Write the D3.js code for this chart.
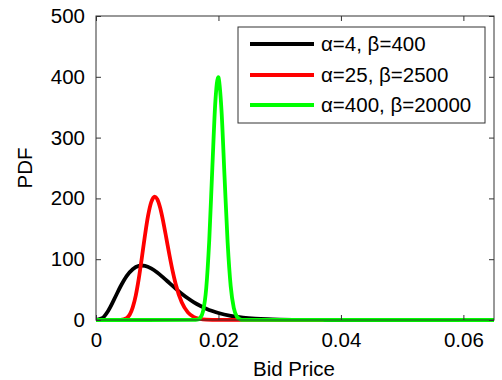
<!DOCTYPE html>
<html>
<head>
<meta charset="utf-8">
<script src="https://cdn.jsdelivr.net/npm/d3@7"></script>
<style>
  html, body { margin: 0; padding: 0; background: #fff; }
  svg text { font-family: Arial, "Liberation Sans", sans-serif; }
</style>
</head>
<body>
<svg id="chart" width="502" height="380"></svg>
<script>
// Gamma PDFs of the bid price for three shape/rate pairs
const seriesNames = ["\u03b1=4, \u03b2=400", "\u03b1=25, \u03b2=2500", "\u03b1=400, \u03b2=20000"];
const seriesColors = ["#000000", "#ff0000", "#00ff00"];

const priceA = [0, 0.001, 0.002, 0.003, 0.004, 0.005, 0.006, 0.007, 0.0075, 0.008, 0.009, 0.010, 0.011, 0.012, 0.013, 0.014, 0.015, 0.016, 0.017, 0.018, 0.019, 0.020, 0.022, 0.024, 0.026, 0.028, 0.030, 0.035, 0.040, 0.065];
const pdfA   = [0, 2.86, 15.3, 34.7, 55.1, 72.2, 83.6, 89.0, 89.6, 89.1, 85.0, 78.2, 69.7, 60.7, 51.7, 43.3, 35.7, 29.0, 23.4, 18.6, 14.7, 11.5, 6.85, 4.0, 2.28, 1.28, 0.71, 0.15, 0.03, 0];

const priceB = [0, 0.003, 0.004, 0.005, 0.006, 0.0065, 0.007, 0.0075, 0.008, 0.0085, 0.009, 0.0096, 0.010, 0.0105, 0.011, 0.0115, 0.012, 0.0125, 0.013, 0.014, 0.015, 0.016, 0.017, 0.018, 0.020, 0.037];
const pdfB   = [0, 0.002, 0.18, 3.18, 20.8, 40.6, 68.9, 103.3, 139.3, 171.1, 193.2, 202.9, 198.8, 183.7, 160.7, 133.8, 106.5, 81.3, 59.7, 29.0, 12.5, 4.8, 1.7, 0.55, 0.05, 0];

const priceC = [0, 0.016, 0.0165, 0.017, 0.0175, 0.018, 0.0185, 0.019, 0.0195, 0.01995, 0.020, 0.0205, 0.021, 0.0215, 0.022, 0.0225, 0.023, 0.0235, 0.024, 0.065];
const pdfC   = [0, 0.05, 0.46, 3.14, 15.0, 51.9, 132.0, 250.4, 360.2, 399.4, 398.9, 344.1, 234.1, 127.1, 55.5, 19.8, 5.8, 1.4, 0.28, 0];

const xTicks = [0, 0.02, 0.04, 0.06];
const xTickLabels = ["0", "0.02", "0.04", "0.06"];
const yTicks = [0, 100, 200, 300, 400, 500];

const series = [
  { name: seriesNames[0], color: seriesColors[0], xs: priceA, ys: pdfA },
  { name: seriesNames[1], color: seriesColors[1], xs: priceB, ys: pdfB },
  { name: seriesNames[2], color: seriesColors[2], xs: priceC, ys: pdfC }
];

const svg = d3.select("#chart");
const plot = { left: 96, right: 494, top: 16, bottom: 320 };

const x = d3.scaleLinear().domain([0, 0.065]).range([plot.left, plot.right]);
const y = d3.scaleLinear().domain([0, 500]).range([plot.bottom, plot.top]);

const fontSize = 20.5;
const lineWidth = 3.8;

// clip so the curves stay inside the frame (baseline stroke may sit on the axis)
svg.append("clipPath").attr("id", "plotClip")
  .append("rect")
  .attr("x", plot.left).attr("y", plot.top)
  .attr("width", plot.right - plot.left).attr("height", plot.bottom - plot.top + 3);

// curves
const line = d3.line()
  .x(d => x(d[0]))
  .y(d => y(d[1]))
  .curve(d3.curveMonotoneX);

const curves = svg.append("g").attr("clip-path", "url(#plotClip)");
series.forEach(s => {
  curves.append("path")
    .datum(s.xs.map((v, i) => [v, s.ys[i]]))
    .attr("d", line)
    .attr("fill", "none")
    .attr("stroke", s.color)
    .attr("stroke-width", lineWidth)
    .attr("stroke-linejoin", "round")
    .attr("stroke-linecap", "round");
});

// axes with inward ticks, mirrored on top and right
const tickLen = 5;
const xAxis = d3.axisBottom(x).tickValues(xTicks).tickFormat((d, i) => xTickLabels[i])
  .tickSizeInner(-tickLen).tickSizeOuter(0).tickPadding(12);
const yAxis = d3.axisLeft(y).tickValues(yTicks).tickFormat(d3.format("d"))
  .tickSizeInner(-tickLen).tickSizeOuter(0).tickPadding(11);
const xAxisTop = d3.axisTop(x).tickValues(xTicks).tickFormat("").tickSizeInner(-tickLen).tickSizeOuter(0);
const yAxisRight = d3.axisRight(y).tickValues(yTicks).tickFormat("").tickSizeInner(-tickLen).tickSizeOuter(0);

function styleAxis(g) {
  g.select(".domain").remove();
  g.selectAll(".tick line").attr("stroke", "#333").attr("stroke-width", 1);
  g.selectAll(".tick text").attr("fill", "#000").style("font-size", fontSize + "px")
    .style("font-family", "Arial, 'Liberation Sans', sans-serif");
}

svg.append("g").attr("transform", `translate(0,${plot.bottom})`).call(xAxis).call(styleAxis);
svg.append("g").attr("transform", `translate(${plot.left},0)`).call(yAxis).call(styleAxis);
svg.append("g").attr("transform", `translate(0,${plot.top})`).call(xAxisTop).call(styleAxis);
svg.append("g").attr("transform", `translate(${plot.right},0)`).call(yAxisRight).call(styleAxis);

// frame
svg.append("rect")
  .attr("x", plot.left).attr("y", plot.top)
  .attr("width", plot.right - plot.left).attr("height", plot.bottom - plot.top)
  .attr("fill", "none").attr("stroke", "#333").attr("stroke-width", 1);

// axis titles
svg.append("text")
  .attr("x", 294).attr("y", 376)
  .attr("text-anchor", "middle")
  .style("font-size", fontSize + "px")
  .text("Bid Price");

svg.append("text")
  .attr("transform", `translate(32,${(plot.top + plot.bottom) / 2}) rotate(-90)`)
  .attr("text-anchor", "middle")
  .style("font-size", fontSize + "px")
  .text("PDF");

// legend
const legend = svg.append("g");
legend.append("rect")
  .attr("x", 238).attr("y", 27).attr("width", 247).attr("height", 96)
  .attr("fill", "#fff").attr("stroke", "#333").attr("stroke-width", 1);

const legendRows = [44, 75, 105];
series.forEach((s, i) => {
  legend.append("line")
    .attr("x1", 250).attr("x2", 314)
    .attr("y1", legendRows[i]).attr("y2", legendRows[i])
    .attr("stroke", s.color).attr("stroke-width", lineWidth);
  legend.append("text")
    .attr("x", 321).attr("y", legendRows[i] + 7)
    .style("font-size", fontSize + "px")
    .text(s.name);
});
</script>
</body>
</html>
